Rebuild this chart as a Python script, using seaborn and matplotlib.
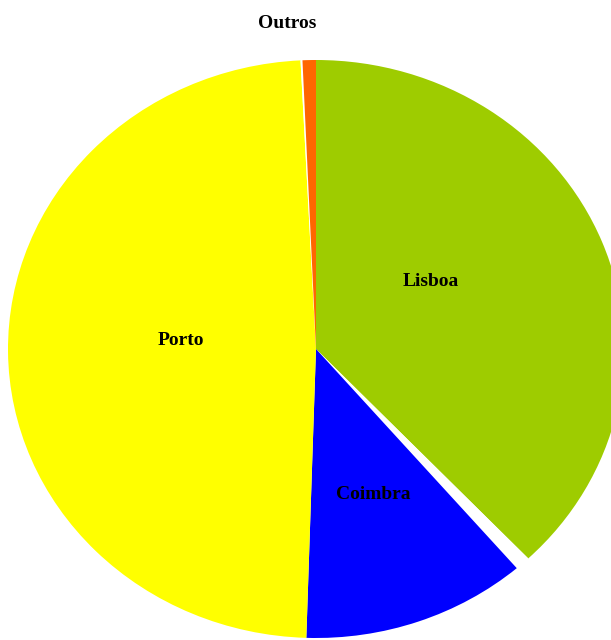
import matplotlib.pyplot as plt
import seaborn as sns

# slices, clockwise from 12 o'clock (blank entries are the white gaps)
labels = ["Lisboa", "", "Coimbra", "Porto", "", "Outros"]
shares = [37.9, 0.8, 11.8, 48.7, 0.1, 0.7]
colors = ["#9ECC00", "#FFFFFF", "#0000FF", "#FFFF00", "#FFFFFF", "#FF6600"]

# label placement in axes data units
label_pos = {
    "Lisboa": (0.373, 0.234),
    "Coimbra": (0.185, -0.503),
    "Porto": (-0.438, 0.028),
    "Outros": (-0.094, 1.128),
}

sns.set_style("white")
plt.rcParams["font.family"] = ["Liberation Serif", "DejaVu Serif"]

fig = plt.figure(figsize=(6.11, 6.4), dpi=100)
ax = fig.add_axes([8 / 611, 2 / 640, 616 / 611, 578 / 640])

ax.pie(
    shares,
    colors=colors,
    startangle=90,
    counterclock=False,
    wedgeprops={"linewidth": 0, "antialiased": True},
)
ax.set_aspect("auto")
ax.set_xlim(-1, 1)
ax.set_ylim(-1, 1)
ax.axis("off")

for name, (x, y) in label_pos.items():
    ax.text(x, y, name, ha="center", va="center", fontsize=14,
            fontweight="bold", color="black", clip_on=False)

fig.savefig("out.png", dpi=100)
